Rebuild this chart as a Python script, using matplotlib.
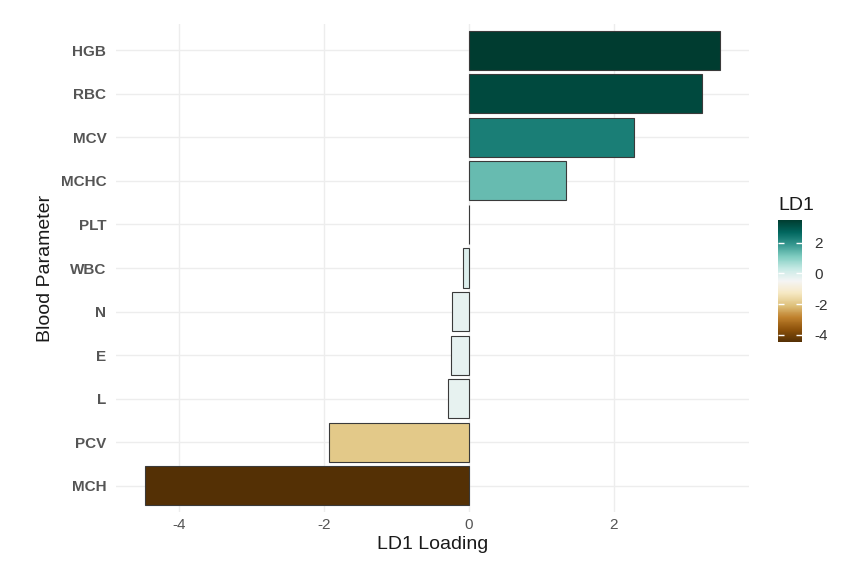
import matplotlib
matplotlib.use("Agg")
import matplotlib.pyplot as plt
import numpy as np
from matplotlib import cm, colors

# Data (top to bottom)
params = ["HGB", "RBC", "MCV", "MCHC", "PLT", "WBC", "N", "E", "L", "PCV", "MCH"]
loadings = [3.47, 3.22, 2.28, 1.34, 0.005, -0.08, -0.23, -0.25, -0.28, -1.93, -4.47]
xticks = [-4, -2, 0, 2]
cbar_ticks = [-4, -2, 0, 2]

plt.rcParams['font.family'] = ['Liberation Sans', 'DejaVu Sans']

W, H = 866, 568
fig = plt.figure(figsize=(W / 100, H / 100), dpi=100)
px = lambda x0, y0, x1, y1: [x0 / W, 1 - y1 / H, (x1 - x0) / W, (y1 - y0) / H]

ax = fig.add_axes(px(116, 24, 749, 512))

vmin, vmax = min(loadings), max(loadings)
norm = colors.Normalize(vmin=vmin, vmax=vmax)
cmap = plt.get_cmap('BrBG')

n = len(params)
ypos = np.arange(n)[::-1]
ax.barh(ypos, loadings, height=0.9, color=[cmap(norm(v)) for v in loadings],
        edgecolor='#3a3a3a', linewidth=0.8, zorder=3)

rng = vmax - vmin
ax.set_xlim(vmin - 0.05 * rng, vmax + 0.05 * rng)
ax.set_ylim(-0.6, n - 1 + 0.6)
ax.set_yticks(ypos)
ax.set_yticklabels(params, fontweight='bold', fontsize=11, color='#555555')
ax.set_xticks(xticks)
ax.set_xticklabels([str(t) for t in xticks], fontsize=11, color='#555555')
ax.tick_params(axis='both', length=0)
ax.tick_params(axis='y', pad=7)
ax.tick_params(axis='x', pad=4)
for s in ax.spines.values():
    s.set_visible(False)
ax.grid(True, color='#ededed', linewidth=1.0, zorder=0)
ax.set_axisbelow(True)
ax.set_xlabel("LD1 Loading", fontsize=14, color='#1a1a1a', labelpad=3)
ax.set_ylabel("Blood Parameter", fontsize=14, color='#1a1a1a', labelpad=5)

# Colorbar
cax = fig.add_axes(px(778, 220, 802, 342))
sm = cm.ScalarMappable(norm=norm, cmap=cmap)
cb = fig.colorbar(sm, cax=cax, ticks=cbar_ticks)
cb.outline.set_visible(False)
cax.tick_params(axis='y', direction='in', colors='white', length=4.5, width=1,
                left=True, right=True, labelsize=11, pad=9)
cax.set_yticklabels([str(t) for t in cbar_ticks])
for lbl in cax.get_yticklabels():
    lbl.set_color('#333333')
fig.text(778 / W, 1 - 197 / H, "LD1", fontsize=14, color='#1a1a1a', ha='left', va='top')

fig.savefig("out.png", dpi=100, facecolor='white')
